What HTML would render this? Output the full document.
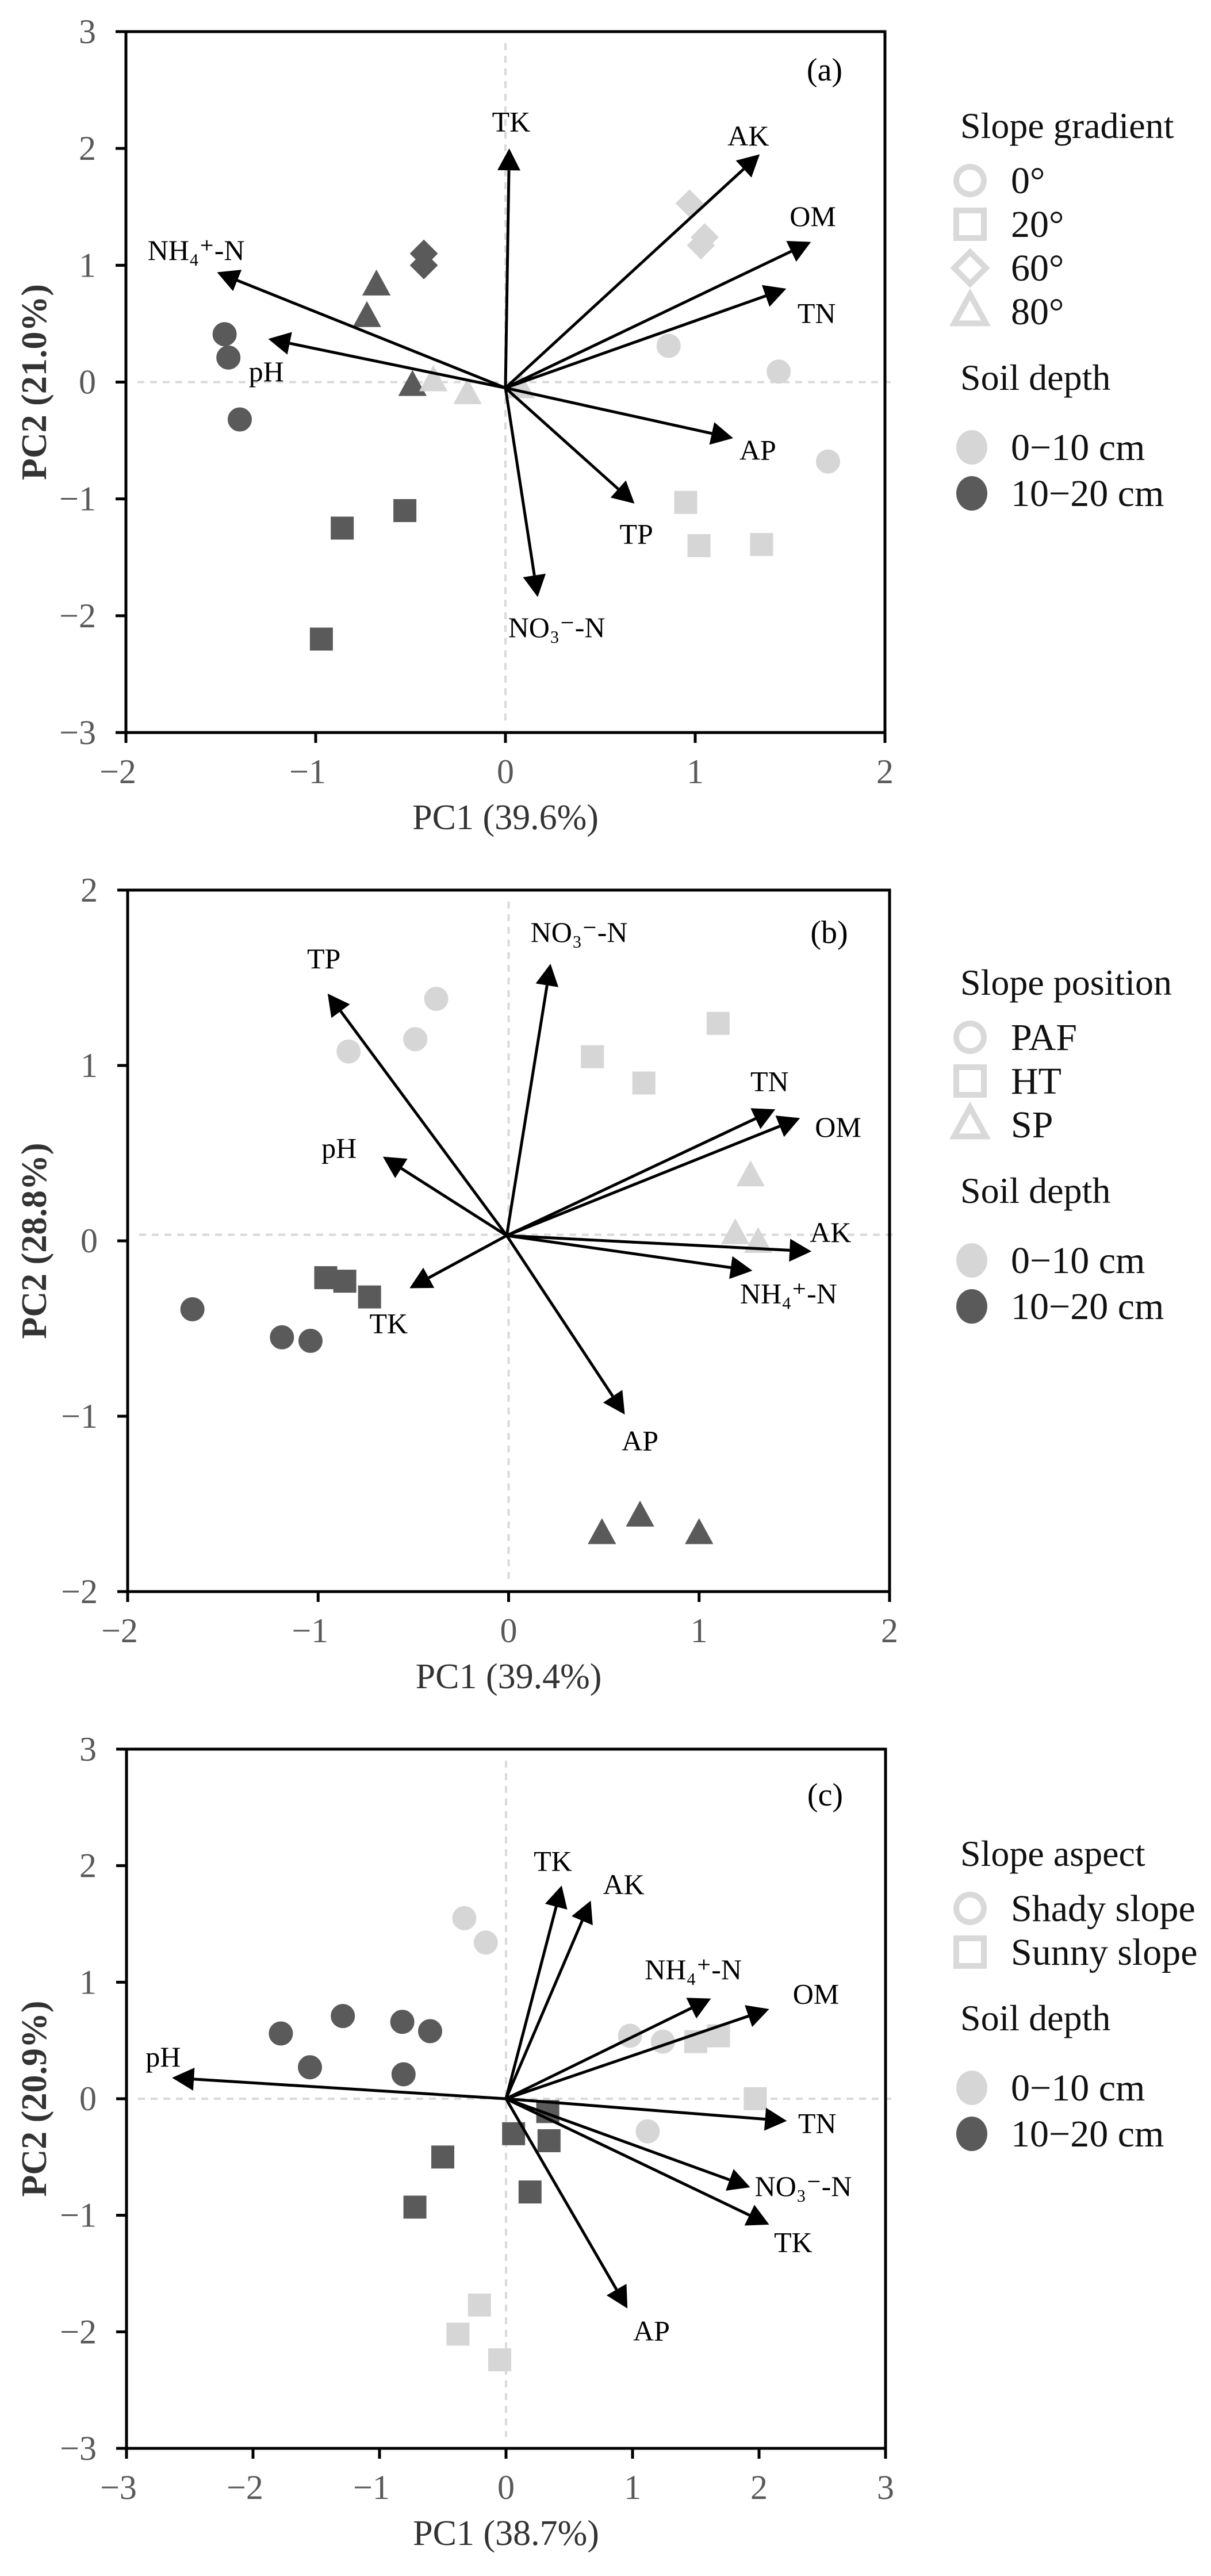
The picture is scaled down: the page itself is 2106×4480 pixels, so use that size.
<!DOCTYPE html>
<html><head><meta charset="utf-8">
<style>
html,body{margin:0;padding:0;background:#fff;}
svg{display:block;font-family:"Liberation Serif",serif;}
svg text{font-family:"Liberation Serif","DejaVu Serif",serif;}
</style></head>
<body>
<svg id="fig" width="2106" height="4480" viewBox="0 0 2106 4480" xmlns="http://www.w3.org/2000/svg"></svg>
<script>
// ---------- Panel (a) data ----------
const aVarNames = ["TK","AK","OM","TN","AP","TP","NO₃⁻-N","pH","NH₄⁺-N"];
const aVarX = [0.02,1.34,1.61,1.48,1.20,0.68,0.17,-1.25,-1.52];
const aVarY = [2.00,1.95,1.20,0.80,-0.48,-1.04,-1.84,0.37,0.94];
const aLabX = [0.03,1.28,1.62,1.64,1.33,0.69,0.27,-1.26,-1.63];
const aLabY = [2.23,2.11,1.42,0.59,-0.58,-1.30,-2.10,0.09,1.13];
const aPtShape = ["c","c","c","c","c","c","s","s","s","s","s","s","d","d","d","d","d","t","t","t","t","t","t"];
const aPtDepth = [0,0,0,1,1,1,0,0,0,1,1,1,0,0,0,1,1,1,1,1,0,0,0];
const aPtX = [0.86,1.44,1.70,-1.48,-1.46,-1.40,0.95,1.02,1.35,-0.86,-0.53,-0.97,0.97,1.05,1.03,-0.43,-0.43,-0.68,-0.73,-0.49,-0.38,-0.20,0.08];
const aPtY = [0.31,0.09,-0.68,0.41,0.21,-0.32,-1.03,-1.40,-1.39,-1.25,-1.10,-2.20,1.53,1.24,1.17,1.10,1.00,0.83,0.56,-0.03,0.01,-0.10,-0.05];
const aXTicks = [-2,-1,0,1,2];
const aYTicks = [-3,-2,-1,0,1,2,3];

// ---------- Panel (b) data ----------
const bVarNames = ["TP","NO₃⁻-N","pH","TK","AP","NH₄⁺-N","AK","OM","TN"];
const bVarX = [-0.95,0.22,-0.66,-0.52,0.61,1.28,1.59,1.53,1.40];
const bVarY = [1.41,1.58,0.48,-0.27,-0.99,-0.17,-0.06,0.70,0.75];
const bLabX = [-0.97,0.37,-0.89,-0.63,0.69,1.47,1.69,1.73,1.37];
const bLabY = [1.61,1.76,0.53,-0.47,-1.14,-0.30,0.05,0.65,0.91];
const bPtShape = ["c","c","c","c","c","c","s","s","s","s","s","s","t","t","t","t","t","t"];
const bPtDepth = [0,0,0,1,1,1,0,0,0,1,1,1,0,0,0,1,1,1];
const bPtX = [-0.38,-0.49,-0.84,-1.66,-1.19,-1.04,1.10,0.44,0.71,-0.96,-0.86,-0.73,1.27,1.19,1.31,0.49,0.69,1.00];
const bPtY = [1.38,1.15,1.08,-0.39,-0.55,-0.57,1.24,1.05,0.90,-0.21,-0.23,-0.32,0.37,0.04,-0.01,-1.67,-1.57,-1.67];
const bXTicks = [-2,-1,0,1,2];
const bYTicks = [-2,-1,0,1,2];

// ---------- Panel (c) data ----------
const cVarNames = ["TK","AK","NH₄⁺-N","OM","pH","TN","NO₃⁻-N","TK","AP"];
const cVarX = [0.44,0.67,1.62,2.08,-2.64,2.22,1.93,2.08,0.96];
const cVarY = [1.83,1.70,0.86,0.77,0.18,-0.19,-0.76,-1.08,-1.80];
const cLabX = [0.37,0.93,1.48,2.45,-2.71,2.46,2.35,2.27,1.15];
const cLabY = [2.04,1.84,1.11,0.90,0.36,-0.21,-0.75,-1.23,-1.99];
const cPtShape = ["c","c","c","c","c","c","c","c","c","c","c","s","s","s","s","s","s","s","s","s","s","s","s"];
const cPtDepth = [0,0,0,0,0,1,1,1,1,1,1,0,0,0,0,0,0,1,1,1,1,1,1];
const cPtX = [-0.33,-0.16,0.98,1.24,1.12,-1.78,-1.29,-0.82,-0.60,-1.55,-0.81,1.50,1.68,1.97,-0.21,-0.38,-0.05,0.33,0.06,0.34,-0.50,0.19,-0.72];
const cPtY = [1.55,1.34,0.54,0.49,-0.28,0.56,0.71,0.66,0.58,0.27,0.21,0.49,0.54,0.00,-1.77,-2.02,-2.24,-0.11,-0.30,-0.36,-0.50,-0.80,-0.93];
const cXTicks = [-3,-2,-1,0,1,2,3];
const cYTicks = [-3,-2,-1,0,1,2,3];

const NS = "http://www.w3.org/2000/svg";
const svg = document.getElementById("fig");
const LIGHT = "#d6d6d6", DARK = "#5a5a5a", LEGC = "#d9d9d9";
const FONT = "Liberation Serif, DejaVu Serif, serif";

function mk(tag, attrs, parent) {
  const e = document.createElementNS(NS, tag);
  for (const k in attrs) e.setAttribute(k, attrs[k]);
  if (tag === "text") e.setAttribute("font-family", FONT);
  (parent || svg).appendChild(e);
  return e;
}
function fmt(v){ return v < 0 ? "−" + Math.abs(v) : String(v); }

function marker(g, shape, cx, cy, fill, stroke, sw, r) {
  let e;
  if (shape === "c") e = mk("circle", {cx: cx, cy: cy, r: r, fill: fill, stroke: stroke, "stroke-width": sw}, g);
  else if (shape === "s") e = mk("rect", {x: cx - r, y: cy - r, width: 2*r, height: 2*r, fill: fill, stroke: stroke, "stroke-width": sw}, g);
  else if (shape === "d") e = mk("polygon", {points: `${cx},${cy-r*1.15} ${cx+r*1.15},${cy} ${cx},${cy+r*1.15} ${cx-r*1.15},${cy}`, fill: fill, stroke: stroke, "stroke-width": sw, "stroke-linejoin": "miter"}, g);
  else e = mk("polygon", {points: `${cx},${cy-r*1.25} ${cx+r*1.15},${cy+r*0.85} ${cx-r*1.15},${cy+r*0.85}`, fill: fill, stroke: stroke, "stroke-width": sw}, g);
  return e;
}

function panel(cfg) {
  const g = mk("g", {});
  
  
  const X = v => cfg.x0 + (v - cfg.xmin) / (cfg.xmax - cfg.xmin) * (cfg.x1 - cfg.x0);
  const Y = v => cfg.y0 + (cfg.ymax - v) / (cfg.ymax - cfg.ymin) * (cfg.y1 - cfg.y0);

  const zx = mk("line", {x1: X(0), y1: cfg.y0 + 20, x2: X(0), y2: cfg.y1 - 20, stroke: "#d9d9d9", "stroke-width": 4, "stroke-dasharray": "12,10"}, g);
  
  
  const zy = mk("line", {x1: cfg.x0 + 20, y1: Y(cfg.hz), x2: cfg.x1 + 10, y2: Y(cfg.hz), stroke: "#d9d9d9", "stroke-width": 4, "stroke-dasharray": "12,10"}, g);
  
  

  for (let i = 0; i < cfg.px.length; i++) {
    const col = cfg.pd[i] ? DARK : LIGHT;
    const m = marker(g, cfg.ps[i], X(cfg.px[i]), Y(cfg.py[i]), col, col, 2, cfg.ps[i] === "s" ? 19 : 20);
    
    
  }

  for (let i = 0; i < cfg.vx.length; i++) {
    const ox = X(cfg.ox), oy = Y(cfg.oy), tx = X(cfg.vx[i]), ty = Y(cfg.vy[i]);
    const dx = tx - ox, dy = ty - oy, L = Math.hypot(dx, dy), ux = dx / L, uy = dy / L;
    const hl = 38, hw = 20;
    const bx = tx - ux * hl, by = ty - uy * hl;
    const ln = mk("line", {x1: ox, y1: oy, x2: bx, y2: by, stroke: "#000", "stroke-width": 5}, g);
    
    
    const hd = mk("polygon", {points: `${tx},${ty} ${bx - uy*hw},${by + ux*hw} ${bx + uy*hw},${by - ux*hw}`, fill: "#000"}, g);
    
    
    const t = mk("text", {x: X(cfg.lx[i]), y: Y(cfg.ly[i]) + 17, "font-size": 50, "text-anchor": "middle", fill: "#000"}, g);
    t.textContent = cfg.vn[i];
    
    
  }

  const fr = mk("rect", {x: cfg.x0, y: cfg.y0, width: cfg.x1 - cfg.x0, height: cfg.y1 - cfg.y0, fill: "none", stroke: "#000", "stroke-width": 5}, g);
  
  

  cfg.xt.forEach(v => {
    const tk = mk("line", {x1: X(v), y1: cfg.y1, x2: X(v), y2: cfg.y1 + 18, stroke: "#000", "stroke-width": 5}, g);
    
    
    const t = mk("text", {x: X(v) - (v < 0 ? 14 : 0), y: cfg.y1 + 88, "font-size": 60, "text-anchor": "middle", fill: "#595959"}, g);
    t.textContent = fmt(v);
    
    
  });
  cfg.yt.forEach(v => {
    const tk = mk("line", {x1: cfg.x0 - 18, y1: Y(v), x2: cfg.x0, y2: Y(v), stroke: "#000", "stroke-width": 5}, g);
    
    
    const t = mk("text", {x: cfg.x0 - 52, y: Y(v) + 20, "font-size": 60, "text-anchor": "end", fill: "#595959"}, g);
    t.textContent = fmt(v);
    
    
  });

  const pl = mk("text", {x: cfg.x1 - 105, y: cfg.tagY, "font-size": 56, "text-anchor": "middle", fill: "#000"}, g);
  pl.textContent = cfg.tag;
  
  

  const xt = mk("text", {x: (cfg.x0 + cfg.x1) / 2, y: cfg.y1 + 168, "font-size": 62, "text-anchor": "middle", fill: "#333"}, g);
  xt.textContent = cfg.xtitle;
  
  
  const ym = (cfg.y0 + cfg.y1) / 2;
  const yt = mk("text", {x: 80, y: ym, "font-size": 62, "text-anchor": "middle", fill: "#333", "font-weight": "bold", transform: `rotate(-90 80 ${ym})`}, g);
  yt.textContent = cfg.ytitle;
  
  

  const lg = mk("g", {}, g);
  
  
  const tt = mk("text", {x: 1670, y: cfg.legY, "font-size": 64, fill: "#111"}, lg);
  tt.textContent = cfg.legTitle;
  
  
  cfg.legItems.forEach((it, i) => {
    const cy = cfg.legY + 74 + i * 76;
    const m = marker(lg, it[0], 1687, cy, "none", LEGC, 10, 24);
    
    
    const t = mk("text", {x: 1758, y: cy + 22, "font-size": 66, fill: "#111"}, lg);
    t.textContent = it[1];
    
    
  });
  const sdY = cfg.legY + 74 + cfg.legItems.length * 76 + 60;
  const st = mk("text", {x: 1670, y: sdY, "font-size": 64, fill: "#111"}, lg);
  st.textContent = "Soil depth";
  
  
  [["0−10 cm", LIGHT], ["10−20 cm", DARK]].forEach((it, i) => {
    const cy = sdY + 100 + i * 80;
    const c = mk("ellipse", {cx: 1690, cy: cy, rx: 27, ry: 30, fill: it[1]}, lg);
    
    
    const t = mk("text", {x: 1758, y: cy + 22, "font-size": 66, fill: "#111"}, lg);
    t.textContent = it[0];
    
    
  });
}

panel({name: "panel-a", tag: "(a)", tagY: 140, x0: 219, x1: 1539, y0: 55, y1: 1274, xmin: -2, xmax: 2, ymin: -3, ymax: 3, hz: 0,
  ox: 0, oy: -0.05, vn: aVarNames, vx: aVarX, vy: aVarY, lx: aLabX, ly: aLabY,
  ps: aPtShape, pd: aPtDepth, px: aPtX, py: aPtY, xt: aXTicks, yt: aYTicks,
  xtitle: "PC1 (39.6%)", ytitle: "PC2 (21.0%)", legY: 240,
  legTitle: "Slope gradient", legItems: [["c","0°"],["s","20°"],["d","60°"],["t","80°"]]});

panel({name: "panel-b", tag: "(b)", tagY: 1640, x0: 222, x1: 1547, y0: 1548, y1: 2768, xmin: -2, xmax: 2, ymin: -2, ymax: 2, hz: 0.035,
  ox: -0.01, oy: 0.03, vn: bVarNames, vx: bVarX, vy: bVarY, lx: bLabX, ly: bLabY,
  ps: bPtShape, pd: bPtDepth, px: bPtX, py: bPtY, xt: bXTicks, yt: bYTicks,
  xtitle: "PC1 (39.4%)", ytitle: "PC2 (28.8%)", legY: 1730,
  legTitle: "Slope position", legItems: [["c","PAF"],["s","HT"],["t","SP"]]});

panel({name: "panel-c", tag: "(c)", tagY: 3140, x0: 220, x1: 1540, y0: 3042, y1: 4258, xmin: -3, xmax: 3, ymin: -3, ymax: 3, hz: 0,
  ox: 0, oy: 0, vn: cVarNames, vx: cVarX, vy: cVarY, lx: cLabX, ly: cLabY,
  ps: cPtShape, pd: cPtDepth, px: cPtX, py: cPtY, xt: cXTicks, yt: cYTicks,
  xtitle: "PC1 (38.7%)", ytitle: "PC2 (20.9%)", legY: 3245,
  legTitle: "Slope aspect", legItems: [["c","Shady slope"],["s","Sunny slope"]]});
</script>
</body></html>
